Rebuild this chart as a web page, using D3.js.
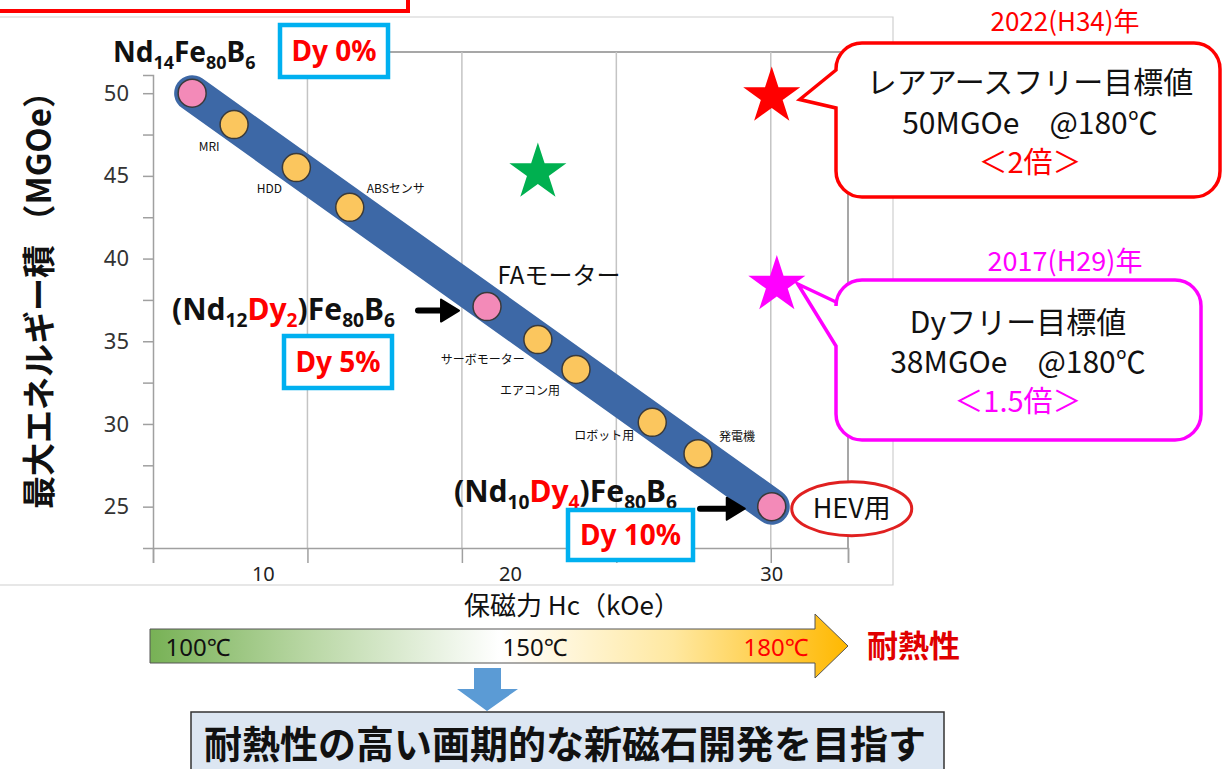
<!DOCTYPE html>
<html><head><meta charset="utf-8">
<script src="https://cdn.jsdelivr.net/npm/d3@7"></script>
<style>
body{margin:0;background:#fff;}
svg{display:block;}
text{font-family:"Noto Sans","Noto Sans CJK JP",sans-serif;}
.jp{font-family:"Noto Sans CJK JP","Noto Sans",sans-serif;}
</style>
</head><body><svg id="c" width="1223" height="769"></svg>
<script>
// ---------------- data ----------------
const hcValues   = [7.2, 8.85, 11.3, 13.4, 18.8, 20.8, 22.3, 25.3, 27.1, 30];
const bhValues   = [50, 48.1, 45.5, 43.1, 37.1, 35.1, 33.3, 30.1, 28.2, 25];
const pointKinds = ["comp","app","app","app","comp","app","app","app","app","comp"];
const appLabels  = ["MRI","HDD","ABSセンサ","FAモーター","サーボモーター","エアコン用","ロボット用","発電機"];
const appLabelPoint = [1,2,3,4,5,6,7,8];
const xTickValues = [10,20,30];
const yTickValues = [25,27.5,30,32.5,35,37.5,40,42.5,45,47.5,50];
const targetHc = [20.8, 30, 30.2];
const targetBh = [45.2, 49.8, 38.4];
const targetColors = ["#00b050","#ff0000","#ff00ff"];
const heatLabels = ["100℃","150℃","180℃"];
const dyLabels = ["Dy 0%","Dy 5%","Dy 10%"];

// ---------------- scales ----------------
const svg = d3.select("#c");
const x = d3.scaleLinear().domain([5.66, 33]).range([153, 848]);
const y = d3.scaleLinear().domain([22.5, 51.1]).range([548, 75]);
const grid = d3.scaleLinear().domain([0, 4.5]).range([153, 848]);

// red frame at top-left
svg.append("rect").attr("x",-10).attr("y",-20).attr("width",418).attr("height",31)
  .attr("fill","none").attr("stroke","#ff0000").attr("stroke-width",4);

// outer chart frame
svg.append("path").attr("d","M0,17H893V585H0").attr("fill","none").attr("stroke","#cfcfcf").attr("stroke-width",1.2);

// plot frame top & right
svg.append("path").attr("d",`M${grid(0)},52H${grid(4.5)}V548`).attr("fill","none").attr("stroke","#8a8a8a").attr("stroke-width",1.5);

// vertical grid lines
svg.append("g").selectAll("line").data([1,2,3,4]).join("line")
  .attr("x1",d=>grid(d)).attr("x2",d=>grid(d)).attr("y1",52).attr("y2",548)
  .attr("stroke","#c4c4c4").attr("stroke-width",1.5);

// x axis
const xAx = svg.append("g").attr("transform","translate(0,548)")
  .call(d3.axisBottom(grid).tickValues([0,1,2,3,4,4.5]).tickSize(15).tickFormat(""));
xAx.selectAll("path,line").attr("stroke","#a0a0a0").attr("stroke-width",1.5);
svg.append("g").selectAll("text").data(xTickValues).join("text")
  .attr("x",d=>x(d)-(d===20?7:0)).attr("y",581).attr("text-anchor","middle")
  .attr("font-size",20).attr("fill","#222").text(d=>d);

// y axis
const yAx = svg.append("g").attr("transform","translate(153,0)")
  .call(d3.axisLeft(y).tickValues(yTickValues).tickSize(10).tickPadding(14)
    .tickFormat(d=>d%5===0?d:""));
yAx.selectAll("path,line").attr("stroke","#a0a0a0").attr("stroke-width",1.5);
yAx.selectAll("text").attr("font-size",22).attr("fill","#333")
  .attr("font-family","'Noto Sans',sans-serif");

// axis titles
svg.append("text").attr("class","jp").attr("transform","translate(51,292) rotate(-90)")
  .attr("text-anchor","middle").attr("font-size",33).attr("font-weight","bold").attr("fill","#111")
  .text("最大エネルギー積 （MGOe）");
svg.append("text").attr("class","jp").attr("x",572).attr("y",615).attr("text-anchor","middle")
  .attr("font-size",26).attr("fill","#111").text("保磁力 Hc（kOe）");

// white cover behind first formula
svg.append("rect").attr("x",105).attr("y",30).attr("width",175).attr("height",44).attr("fill","#fff");

// band
const pts = hcValues.map((h,i)=>[x(h), y(bhValues[i])]);
svg.append("line")
  .attr("x1",pts[0][0]).attr("y1",pts[0][1])
  .attr("x2",pts[pts.length-1][0]).attr("y2",pts[pts.length-1][1])
  .attr("stroke","#3d68a6").attr("stroke-width",36).attr("stroke-linecap","round");

// points
svg.append("g").selectAll("circle").data(pts).join("circle")
  .attr("cx",d=>d[0]).attr("cy",d=>d[1]).attr("r",14)
  .attr("fill",(d,i)=>pointKinds[i]==="comp"?"#f38ab8":"#fbc65e")
  .attr("stroke","#3a3a3a").attr("stroke-width",1.5);

// application labels
const labelOff = [[-25,22],[-27,21],[46,-19],[72,-31],[-55,20],[-46,21],[-48,13],[39,-17]];
svg.append("g").selectAll("text").data(appLabels).join("text")
  .attr("class","jp")
  .attr("x",(d,i)=>pts[appLabelPoint[i]][0]+labelOff[i][0])
  .attr("y",(d,i)=>pts[appLabelPoint[i]][1]+labelOff[i][1])
  .attr("dy","0.35em").attr("text-anchor","middle")
  .attr("font-size",(d,i)=>i===3?24:12).attr("fill","#111")
  .text(d=>d);

// stars
svg.append("g").selectAll("path").data(targetHc).join("path")
  .attr("transform",(d,i)=>`translate(${x(d)},${y(targetBh[i])})`)
  .attr("d",d3.symbol(d3.symbolStar).size(1010))
  .attr("fill",(d,i)=>targetColors[i]);

// formulas
function formula(xp, yp, parts, fs){
  const t = svg.append("text").attr("x",xp).attr("y",yp).attr("font-size",fs)
    .attr("font-weight","bold").attr("fill","#111");
  parts.forEach(p=>{
    const s = t.append("tspan").text(p[0]).attr("fill",p[2]||"#111");
    if(p[1]==="sub") s.attr("font-size",fs*0.64).attr("dy",7);
    if(p[1]==="up") s.attr("dy",-7);
  });
}
formula(113,62,[["Nd"],["14","sub"],["Fe","up"],["80","sub"],["B","up"],["6","sub"]],28);
formula(172,320,[["(Nd"],["12","sub"],["Dy","up","#ff0000"],["2","sub","#ff0000"],[")Fe","up"],["80","sub"],["B","up"],["6","sub"]],30);
formula(454,502,[["(Nd"],["10","sub"],["Dy","up","#ff0000"],["4","sub","#ff0000"],[")Fe","up"],["80","sub"],["B","up"],["6","sub"]],30);

// black arrows
function blackArrow(x1,x2,yy){
  svg.append("path").attr("d",`M${x1},${yy}H${x2-14}`).attr("stroke","#000").attr("stroke-width",6)
    .attr("stroke-linecap","round");
  svg.append("path").attr("d",`M${x2-18},${yy-11}L${x2},${yy}L${x2-18},${yy+11}Z`)
    .attr("fill","#000").attr("stroke","#000").attr("stroke-width",2).attr("stroke-linejoin","round");
}
blackArrow(418, pts[4][0]-28, pts[4][1]+4);
blackArrow(700, pts[9][0]-27, pts[9][1]+2);

// Dy boxes
const dyBoxes = [[280,25,108,52],[284,336,108,52],[568,510,125,50]];
dyBoxes.forEach((b,i)=>{
  svg.append("rect").attr("x",b[0]).attr("y",b[1]).attr("width",b[2]).attr("height",b[3])
    .attr("fill","#fff").attr("stroke","#00b0f0").attr("stroke-width",4.5);
  svg.append("text").attr("x",b[0]+b[2]/2).attr("y",b[1]+b[3]/2).attr("dy","0.36em")
    .attr("text-anchor","middle").attr("font-size",28).attr("font-weight","bold")
    .attr("fill","#ff0000").text(dyLabels[i]);
});

// HEV ellipse
svg.append("ellipse").attr("cx",pts[9][0]+80).attr("cy",pts[9][1]+2).attr("rx",60).attr("ry",27)
  .attr("fill","#fff").attr("stroke","#e02020").attr("stroke-width",3);
svg.append("text").attr("class","jp").attr("x",pts[9][0]+80).attr("y",pts[9][1]+2).attr("dy","0.36em")
  .attr("text-anchor","middle").attr("font-size",27).attr("fill","#111").text("HEV用");

// callouts
function callout(x0,y0,x1,y1,r,ty1,ty2,tip,color){
  const p = d3.path();
  p.moveTo(x0+r,y0); p.lineTo(x1-r,y0); p.arcTo(x1,y0,x1,y0+r,r);
  p.lineTo(x1,y1-r); p.arcTo(x1,y1,x1-r,y1,r);
  p.lineTo(x0+r,y1); p.arcTo(x0,y1,x0,y1-r,r);
  p.lineTo(x0,ty2); p.lineTo(tip[0],tip[1]); p.lineTo(x0,ty1);
  p.lineTo(x0,y0+r); p.arcTo(x0,y0,x0+r,y0,r); p.closePath();
  svg.append("path").attr("d",p.toString()).attr("fill","#fff").attr("stroke",color)
    .attr("stroke-width",3.5).attr("stroke-linejoin","miter");
}
callout(836,43,1220,197,26,70,108,[x(targetHc[1])+28,y(targetBh[1])+3],"#ff0000");
callout(836,280,1201,440,26,302,346,[x(targetHc[2])+21,y(targetBh[2])-1],"#ff00ff");

function lines(cx, ys, items){
  items.forEach((it,i)=>{
    svg.append("text").attr("class","jp").attr("x",cx).attr("y",ys[i]).attr("dy","0.36em")
      .attr("text-anchor","middle").attr("font-size",it[2]||29).attr("fill",it[1]).text(it[0]);
  });
}
lines(1030,[82,123,163],[["レアアースフリー目標値","#111",30],["50MGOe　@180℃","#111",30],["＜2倍＞","#ff0000",29]]);
lines(1018,[322,362,402],[["Dyフリー目標値","#111",30],["38MGOe　@180℃","#111",30],["＜1.5倍＞","#ff00ff",29]]);
lines(1065,[22],[["2022(H34)年","#ff0000",26]]);
lines(1065,[261],[["2017(H29)年","#ff00ff",27]]);

// gradient arrow
const defs = svg.append("defs");
const lg = defs.append("linearGradient").attr("id","heat").attr("gradientUnits","userSpaceOnUse")
  .attr("x1",150).attr("x2",848).attr("y1",0).attr("y2",0);
[[0,"#77b155"],[0.22,"#b7d6a2"],[0.5,"#ffffff"],[0.75,"#ffe8a0"],[1,"#ffb800"]]
  .forEach(s=>lg.append("stop").attr("offset",s[0]).attr("stop-color",s[1]));
svg.append("path").attr("d","M150,629H815V614L848,646L815,678V663H150Z")
  .attr("fill","url(#heat)").attr("stroke","#555").attr("stroke-width",1);
const heatX = [198,535,776];
heatLabels.forEach((t,i)=>{
  svg.append("text").attr("x",heatX[i]).attr("y",647).attr("dy","0.36em")
    .attr("text-anchor","middle").attr("font-size",24)
    .attr("fill",i===2?"#ff0000":"#111").text(t);
});
svg.append("text").attr("class","jp").attr("x",867).attr("y",646).attr("dy","0.36em")
  .attr("font-size",31).attr("font-weight","bold").attr("fill","#e00000").text("耐熱性");

// blue down arrow
svg.append("path").attr("d","M474,668H501V689H518L487,711L457,689H474Z").attr("fill","#5b9bd5");

// bottom box
svg.append("rect").attr("x",191).attr("y",712).attr("width",753).attr("height",70)
  .attr("fill","#dce6f2").attr("stroke","#333").attr("stroke-width",1.5);
svg.append("text").attr("class","jp").attr("x",204).attr("y",744).attr("dy","0.36em")
  .attr("font-size",38).attr("font-weight","bold").attr("fill","#111")
  .text("耐熱性の高い画期的な新磁石開発を目指す");
</script></body></html>
